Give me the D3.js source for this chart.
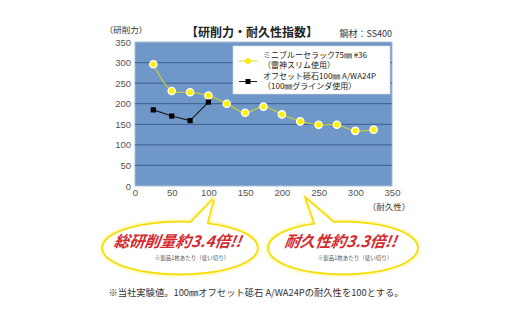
<!DOCTYPE html>
<html>
<head>
<meta charset="utf-8">
<script src="https://cdn.jsdelivr.net/npm/d3@7/dist/d3.min.js"></script>
<style>
  html, body { margin: 0; padding: 0; background: #ffffff; }
  svg { display: block; font-family: "Noto Sans CJK JP", "Noto Sans", sans-serif; }
</style>
</head>
<body>
<svg id="chart" width="520" height="323"></svg>
<script>
// Durability index (x) vs. grinding power (y)
const durabilityA = [25, 50, 75, 100, 125, 150, 175, 200, 225, 250, 275, 300, 325];
const powerA      = [296, 231, 228, 220, 200, 178, 193, 174, 157, 149, 149, 134, 137];
const durabilityB = [25, 50, 75, 100];
const powerB      = [185, 170, 159, 204];
const yTicks = [0, 50, 100, 150, 200, 250, 300, 350];
const xTicks = [0, 50, 100, 150, 200, 250, 300, 350];
const seriesNames = [
  ["ミニブルーセラック75㎜ #36", "（雷神スリム使用）"],
  ["オフセット砥石100㎜ A/WA24P", "（100㎜グラインダ使用）"]
];

const svg = d3.select("#chart");
const plot = { left: 135, right: 392, top: 42, bottom: 186 };

const x = d3.scaleLinear().domain([0, 350]).range([plot.left, plot.right]);
const y = d3.scaleLinear().domain([0, 350]).range([plot.bottom, plot.top]);

const defs = svg.append("defs");
const glow = defs.append("filter").attr("id", "glow").attr("x", "-20%").attr("y", "-40%").attr("width", "140%").attr("height", "180%");
glow.append("feGaussianBlur").attr("stdDeviation", 1.2);

// Plot background
svg.append("rect")
  .attr("x", plot.left).attr("y", plot.top)
  .attr("width", plot.right - plot.left).attr("height", plot.bottom - plot.top)
  .attr("fill", "#6f98c8").attr("stroke", "#a9bdd6").attr("stroke-width", 1);

// Horizontal gridlines
svg.append("g").selectAll("line").data(yTicks.filter(d => d > 0 && d < 350)).join("line")
  .attr("x1", plot.left).attr("x2", plot.right)
  .attr("y1", d => y(d)).attr("y2", d => y(d))
  .attr("stroke", "#45689a").attr("stroke-width", 1.2);

// Axes (labels only)
const yAxis = svg.append("g").attr("transform", `translate(${plot.left},0)`)
  .call(d3.axisLeft(y).tickValues(yTicks).tickSize(0).tickPadding(4));
const xAxis = svg.append("g").attr("transform", `translate(0,${plot.bottom})`)
  .call(d3.axisBottom(x).tickValues(xTicks).tickSize(0).tickPadding(3));
[yAxis, xAxis].forEach(a => {
  a.select(".domain").remove();
  a.selectAll("text").attr("fill", "#555").attr("font-size", 9.5)
    .attr("font-family", "Liberation Sans, Arial, sans-serif");
});

// Series A: smoothed yellow line
const lineA = d3.line().x((d, i) => x(durabilityA[i])).y(d => y(d)).curve(d3.curveCatmullRom.alpha(0.5));
svg.append("path").datum(powerA).attr("d", lineA)
  .attr("fill", "none").attr("stroke", "#c9c83a").attr("stroke-width", 1.3);
svg.append("g").selectAll("circle").data(powerA).join("circle")
  .attr("cx", (d, i) => x(durabilityA[i])).attr("cy", d => y(d)).attr("r", 3.6)
  .attr("fill", "#fff200").attr("stroke", "#ffffff").attr("stroke-width", 1.4);

// Series B: black line with squares
const lineB = d3.line().x((d, i) => x(durabilityB[i])).y(d => y(d));
svg.append("path").datum(powerB).attr("d", lineB)
  .attr("fill", "none").attr("stroke", "#1a1a1a").attr("stroke-width", 1.1);
svg.append("g").selectAll("rect").data(powerB).join("rect")
  .attr("x", (d, i) => x(durabilityB[i]) - 2.6).attr("y", d => y(d) - 2.6)
  .attr("width", 5.2).attr("height", 5.2).attr("fill", "#000");

// Legend
const lg = svg.append("g");
lg.append("rect").attr("x", 233).attr("y", 46).attr("width", 157).attr("height", 48)
  .attr("fill", "#ffffff").attr("stroke", "#d8d8d8").attr("stroke-width", 0.6);
lg.append("line").attr("x1", 239).attr("x2", 257).attr("y1", 61).attr("y2", 61)
  .attr("stroke", "#e8e030").attr("stroke-width", 1.2);
lg.append("circle").attr("cx", 248).attr("cy", 61).attr("r", 2.6).attr("fill", "#fff200").attr("stroke", "#e0d000").attr("stroke-width", 0.5);
lg.append("line").attr("x1", 239).attr("x2", 257).attr("y1", 81.5).attr("y2", 81.5)
  .attr("stroke", "#222").attr("stroke-width", 1);
lg.append("rect").attr("x", 245.5).attr("y", 79).attr("width", 5).attr("height", 5).attr("fill", "#000");
seriesNames.forEach((lines, k) => {
  lines.forEach((t, j) => {
    lg.append("text").attr("x", 263).attr("y", 58 + k * 21 + j * 10)
      .attr("font-size", 8).attr("fill", "#222").text(t);
  });
});

// Titles and axis captions
svg.append("text").attr("x", 252).attr("y", 37).attr("text-anchor", "middle")
  .attr("font-size", 12).attr("font-weight", "bold").attr("fill", "#222")
  .text("【研削力・耐久性指数】");
svg.append("text").attr("x", 392).attr("y", 37).attr("text-anchor", "end")
  .attr("font-size", 9).attr("fill", "#333").text("鋼材：SS400");
svg.append("text").attr("x", 126).attr("y", 33).attr("text-anchor", "middle")
  .attr("font-size", 8.5).attr("fill", "#333").text("（研削力）");
svg.append("text").attr("x", 389).attr("y", 210).attr("text-anchor", "middle")
  .attr("font-size", 8.5).attr("fill", "#333").text("（耐久性）");

// Speech bubbles: ellipse plus a pointed tail
function bubble(cx, cy, rx, ry, tail, headline, note) {
  const g = svg.append("g");
  const tailPath = `M${tail.map(p => p.join(",")).join(" L")} Z`;
  const shape = (sel) => {
    sel.append("ellipse").attr("cx", cx).attr("cy", cy).attr("rx", rx).attr("ry", ry);
    sel.append("path").attr("d", tailPath);
  };
  const halo = g.append("g").attr("fill", "none").attr("stroke", "#fff6a0").attr("stroke-width", 6)
    .attr("stroke-linejoin", "round").attr("filter", "url(#glow)");
  shape(halo);
  const ring = g.append("g").attr("fill", "none").attr("stroke", "#f7dc0a").attr("stroke-width", 3.4).attr("stroke-linejoin", "miter");
  shape(ring);
  const fill = g.append("g").attr("fill", "#ffffff").attr("stroke", "none");
  shape(fill);
  const base = cy - 1;
  g.append("text").attr("x", cx - 3).attr("y", base).attr("text-anchor", "middle")
    .attr("font-size", 15.5).attr("font-weight", "bold").attr("font-style", "italic")
    .attr("fill", "#d52a2f").attr("transform", `translate(${base * Math.tan(8 * Math.PI / 180)},0) skewX(-8)`)
    .text(headline);
  g.append("text").attr("x", cx + 12).attr("y", cy + 12).attr("text-anchor", "middle")
    .attr("font-size", 5.5).attr("fill", "#555").text(note);
}
bubble(180, 248, 77, 25.5, [[188, 226], [213, 200], [206, 226]],
  "総研削量約3.4倍!!", "※製品1枚あたり（使い切り）");
bubble(343, 248, 74, 25.5, [[316, 226], [307, 200], [336, 225]],
  "耐久性約3.3倍!!", "※製品1枚あたり（使い切り）");

// Footnote
svg.append("text").attr("x", 256).attr("y", 296).attr("text-anchor", "middle")
  .attr("font-size", 9.3).attr("fill", "#333")
  .text("※当社実験値。100㎜オフセット砥石 A/WA24Pの耐久性を100とする。");
</script>
</body>
</html>
